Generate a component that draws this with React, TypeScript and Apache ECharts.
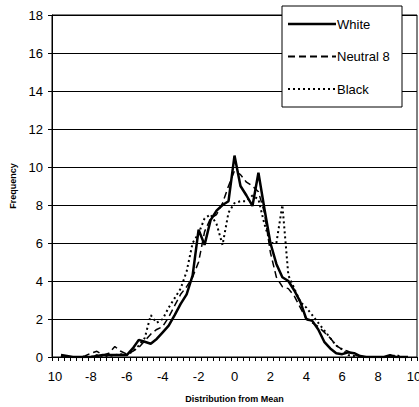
import React, { useEffect, useRef } from "react";
import * as echarts from "echarts";

// 61 bins from -10 to 10 in thirds
const categories: string[] = Array.from({ length: 61 }, (_, i) => String(Math.round((-10 + i / 3) * 100) / 100));
const tickLabels = ["10", "-8", "-6", "-4", "-2", "0", "2", "4", "6", "8", "10"];
const seriesNames = ["White", "Neutral 8", "Black"];

const whiteValues: (number | null)[] = [
  null, 0.1, 0.05, 0, 0, 0, 0, 0.05, 0.1, 0.1, 0.1, 0.1, 0.1, 0.45, 0.9, 0.8, 0.7, 0.95, 1.3, 1.65,
  2.2, 2.8, 3.3, 4.3, 6.7, 5.9, 7.2, 7.7, 8.0, 8.2, 10.6, 9.0, 8.5, 7.95, 9.7, 7.8, 6.0, 4.9, 4.2, 4.0,
  3.5, 2.9, 2.0, 1.9, 1.45, 0.8, 0.45, 0.2, 0.15, 0.25, 0.2, 0.05, 0, 0, 0, 0, 0.1, 0, 0, 0, null,
];
const neutralValues: (number | null)[] = [
  null, 0, 0, 0, 0, 0.05, 0.2, 0.3, 0.1, 0.2, 0.55, 0.3, 0.15, 0.3, 0.5, 0.85, 1.2, 1.45, 1.6, 2.1,
  2.7, 3.3, 3.7, 4.2, 5.0, 6.6, 7.3, 7.5, 8.1, 9.0, 9.8, 9.6, 9.2, 9.0, 8.7, 7.6, 5.5, 4.2, 3.7, 3.6,
  3.2, 2.6, 2.0, 1.8, 1.6, 1.3, 1.0, 0.6, 0.4, 0.3, 0.1, 0.05, 0, 0, 0, 0, 0, 0, 0, 0, null,
];
const blackValues: (number | null)[] = [
  null, 0.05, 0, 0, 0, 0, 0, 0.1, 0.05, 0.05, 0.1, 0.15, 0.1, 0.3, 0.6, 1.0, 2.2, 1.8, 2.0, 2.6,
  3.1, 3.6, 4.5, 6.0, 6.5, 7.3, 7.5, 7.0, 5.9, 7.6, 8.1, 8.2, 8.2, 8.5, 8.3, 7.0, 6.0, 6.0, 8.0, 4.3,
  3.6, 2.9, 2.6, 2.2, 1.8, 1.4, 1.0, 0.6, 0.4, 0.1, 0.05, 0, 0, 0, 0, 0, 0, 0.1, 0, 0, null,
];

const FONT = "'Liberation Sans', Arial, sans-serif";

const lineStyles = [
  { width: 2.5, dash: null as number[] | null },
  { width: 1.5, dash: [7, 4] },
  { width: 2, dash: [2, 3] },
];

export default function App() {
  const ref = useRef<HTMLDivElement>(null);
  useEffect(() => {
    if (!ref.current) return;
    const chart = echarts.init(ref.current, undefined, { renderer: "svg" });
    const dataSets = [whiteValues, neutralValues, blackValues];

    const legendElements: any[] = [
      {
        type: "rect",
        shape: { x: 282, y: 6, width: 120, height: 101 },
        style: { fill: "#fff", stroke: "#000", lineWidth: 1 },
        z: 100,
      },
    ];
    seriesNames.forEach((name, i) => {
      const y = 24 + i * 32.5;
      legendElements.push({
        type: "line",
        shape: { x1: 288, y1: y, x2: 336, y2: y },
        style: { stroke: "#000", lineWidth: i === 0 ? 2.5 : 2, lineDash: lineStyles[i].dash || undefined },
        z: 101,
      });
      legendElements.push({
        type: "text",
        x: 337, y,
        style: { text: name, fontSize: 13, fontFamily: FONT, fill: "#000", verticalAlign: "middle", align: "left" },
        z: 101,
      });
    });

    chart.setOption({
      animation: false,
      textStyle: { fontFamily: FONT, color: "#000" },
      grid: {
        left: 52, right: 2, top: 15, bottom: 50,
        outerBoundsMode: "none",
        containLabel: false,
        show: true, borderColor: "#000", borderWidth: 1, backgroundColor: "transparent",
      },
      graphic: legendElements,
      xAxis: {
        type: "category",
        data: categories,
        boundaryGap: true,
        name: "Distribution from Mean",
        nameLocation: "middle",
        nameGap: 37,
        nameTextStyle: { fontSize: 9, fontWeight: "bold", color: "#000", fontFamily: FONT },
        axisLine: { lineStyle: { color: "#000", width: 1 } },
        axisTick: { show: true, interval: 0, length: 4, alignWithLabel: false, lineStyle: { color: "#000" } },
        axisLabel: {
          interval: 5,
          margin: 13,
          fontSize: 13,
          color: "#000",
          fontFamily: FONT,
          hideOverlap: false,
          formatter: (_v: string, idx: number) => (idx % 6 === 0 ? tickLabels[idx / 6] : ""),
        },
        splitLine: { show: false },
      },
      yAxis: {
        type: "value",
        min: 0, max: 18, interval: 2,
        name: "Frequency",
        nameLocation: "middle",
        nameGap: 33,
        nameTextStyle: { fontSize: 9, fontWeight: "bold", color: "#000", fontFamily: FONT },
        axisLine: { show: true, lineStyle: { color: "#000", width: 1 } },
        axisTick: { show: true, length: 4, lineStyle: { color: "#000" } },
        axisLabel: { margin: 9, fontSize: 13, color: "#000", fontFamily: FONT },
        splitLine: { show: true, lineStyle: { color: "#000", width: 1 } },
      },
      series: seriesNames.map((name, i) => ({
        name,
        type: "line",
        data: dataSets[i],
        symbol: "none",
        lineStyle: { color: "#000", width: lineStyles[i].width, type: lineStyles[i].dash || "solid" },
        itemStyle: { color: "#000" },
      })),
    });
    return () => chart.dispose();
  }, []);
  return <div ref={ref} style={{ width: 419, height: 407, position: "absolute", left: 0, top: 0, background: "#fff" }} />;
}
